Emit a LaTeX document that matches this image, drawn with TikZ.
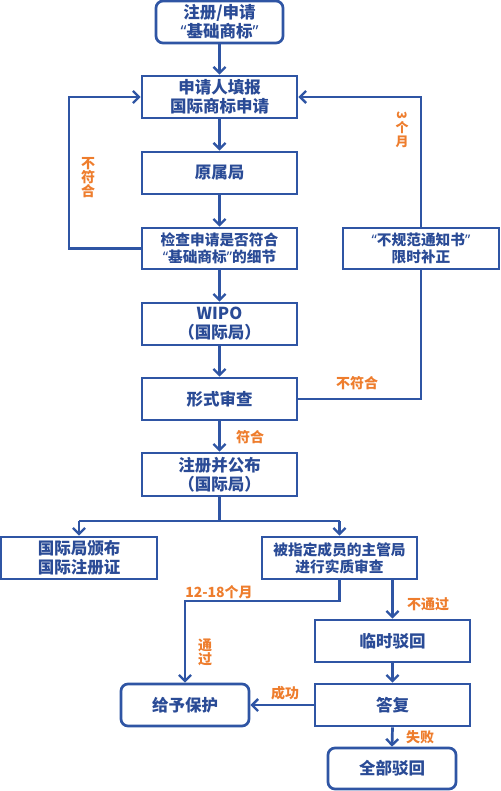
\documentclass[tikz,border=0pt]{standalone}
\usepackage{fontspec}
\setmainfont{Noto Sans CJK SC}
\newfontfamily\latinq{Noto Sans}
\newcommand\oqt{{\latinq\bfseries “}}
\newcommand\cqt{{\latinq\bfseries ”}}
\usetikzlibrary{arrows.meta}
\definecolor{lineblue}{HTML}{2F55A4}
\definecolor{textblue}{HTML}{2A4B96}
\definecolor{lblorange}{HTML}{EE7D2D}
\begin{document}
\begin{tikzpicture}[x=1pt,y=-1pt,
  box/.style={draw=lineblue,line width=2.7pt,fill=white,text=textblue,align=center,inner sep=0pt,
    minimum width=155pt,minimum height=42pt,font=\bfseries\fontsize{16.5}{19}\selectfont},
  rbox/.style={box,rounded corners=7pt,minimum width=128pt},
  conn/.style={draw=lineblue,line width=2.7pt},
  arr/.style={conn,-{Straight Barb[length=6pt,width=12pt,line width=2.4pt]}},
  lbl/.style={text=lblorange,font=\bfseries\fontsize{14}{16}\selectfont,inner sep=0pt,align=center}]
\useasboundingbox (0,0) rectangle (500,791);
\fill[white] (0,0) rectangle (500,791);

\node[rbox,minimum width=127pt] (b1) at (219.5,22) {注册/申请\\\oqt 基础商标\cqt};
\node[box] (b2) at (219.5,97) {申请人填报\\国际商标申请};
\node[box] (b3) at (219.5,173) {原属局};
\node[box,minimum height=41pt,font=\bfseries\fontsize{14.7}{17}\selectfont] (b4) at (219.5,248.5) {检查申请是否符合\\\oqt 基础商标\cqt 的细节};
\node[box,minimum width=156pt,minimum height=41pt,font=\bfseries\fontsize{14.7}{17}\selectfont] (b5) at (421,248.5) {\oqt 不规范通知书\cqt\\限时补正};
\node[box] (b6) at (219.5,324) {WIPO\\（国际局）};
\node[box] (b7) at (219.5,399) {形式审查};
\node[box,minimum height=43pt] (b8) at (219.5,474.5) {注册并公布\\（国际局）};
\node[box,minimum width=156pt] (b9) at (79,558) {国际局颁布\\国际注册证};
\node[box,font=\bfseries\fontsize{14.7}{17}\selectfont] (b10) at (339.5,558) {被指定成员的主管局\\进行实质审查};
\node[box] (b11) at (392.5,641) {临时驳回};
\node[box] (b12) at (392.5,705) {答复};
\node[rbox] (b13) at (185,705) {给予保护};
\node[rbox,minimum height=41pt] (b14) at (392,768.5) {全部驳回};

\draw[arr] (b1) -- (b2);
\draw[arr] (b2) -- (b3);
\draw[arr] (b3) -- (b4);
\draw[arr] (b4) -- (b6);
\draw[arr] (b6) -- (b7);
\draw[arr] (b7) -- (b8);

\coordinate (lcorner) at (69,248.5);
\draw[arr] (b4.west) -- (lcorner) |- (b2.west);
\draw[arr] (b5.north) |- (b2.east);
\draw[conn] (b7.east) -| (b5.south);

\coordinate (split) at (219.5,521);
\draw[conn] (b8.south) -- (split);
\draw[conn] (b9.north |- split) -- (b10.north |- split);
\draw[arr] (b9.north |- split) -- (b9.north);
\draw[arr] (b10.north |- split) -- (b10.north);

\coordinate (pbend) at (339.5,601);
\draw[arr] (b10.south) -- (pbend) -| (b13.north);
\draw[arr] (b11.north |- b10.south) -- (b11.north);
\draw[arr] (b11) -- (b12);
\draw[arr] (b12) -- (b13);
\draw[arr] (b12.south) -- (b14.north);

\node[lbl] (l1) at (88,178) {不\\[-2pt]符\\[-2pt]合};
\node[lbl,font=\bfseries\fontsize{13}{14}\selectfont,rotate=-90] (l2a) at (402,115.5) {3};
\node[lbl,font=\bfseries\fontsize{13}{14}\selectfont] (l2) at (402,135) {个\\月};
\node[lbl] (l3) at (357,383) {不符合};
\node[lbl] (l4) at (250,437) {符合};
\node[lbl] (l5) at (219,592) {12-18个月};
\node[lbl] (l6) at (205,652) {通\\[-2pt]过};
\node[lbl] (l7) at (428,604) {不通过};
\node[lbl] (l8) at (285,693) {成功};
\node[lbl] (l9) at (420,737) {失败};
\end{tikzpicture}
\end{document}
